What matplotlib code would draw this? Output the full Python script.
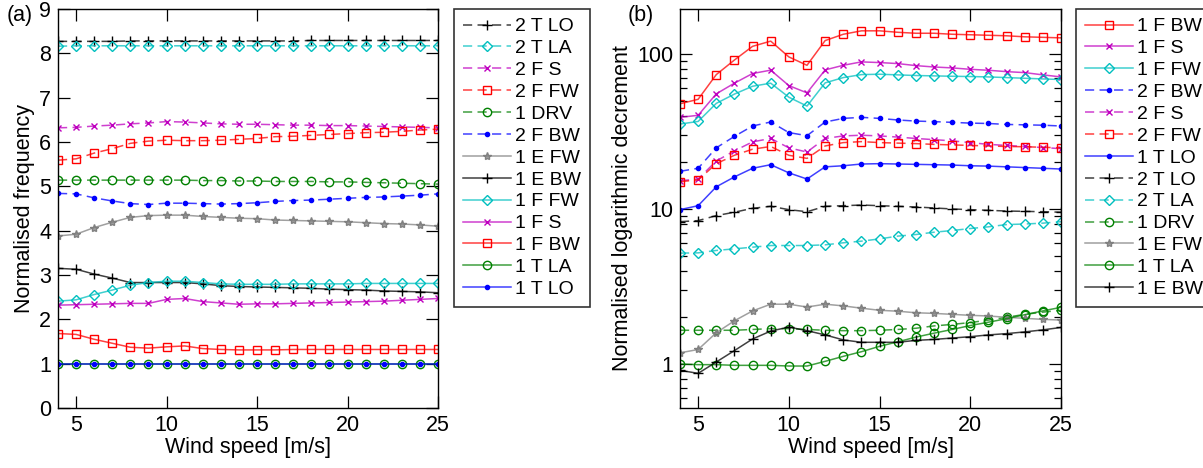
import numpy as np
import matplotlib
matplotlib.use("Agg")
import matplotlib.pyplot as plt

plt.rcParams['font.family'] = ['Liberation Sans', 'DejaVu Sans']

ws = [4, 5, 6, 7, 8, 9, 10, 11, 12, 13, 14, 15, 16, 17, 18, 19, 20, 21, 22, 23, 24, 25]

# (a) normalised frequency
f_2TLO = [8.27, 8.27, 8.27, 8.27, 8.28, 8.28, 8.28, 8.28, 8.28, 8.28, 8.28, 8.28, 8.28, 8.28, 8.29, 8.29, 8.29, 8.29, 8.29, 8.29, 8.29, 8.29]
f_2TLA = [8.16, 8.17, 8.17, 8.17, 8.17, 8.17, 8.17, 8.17, 8.17, 8.17, 8.17, 8.17, 8.17, 8.17, 8.17, 8.17, 8.17, 8.17, 8.17, 8.17, 8.17, 8.17]
f_2FS = [6.32, 6.33, 6.36, 6.38, 6.41, 6.43, 6.46, 6.45, 6.43, 6.41, 6.40, 6.40, 6.39, 6.38, 6.38, 6.37, 6.37, 6.36, 6.35, 6.34, 6.33, 6.32]
f_2FFW = [5.59, 5.62, 5.75, 5.85, 5.97, 6.02, 6.04, 6.03, 6.03, 6.04, 6.06, 6.08, 6.12, 6.13, 6.15, 6.17, 6.19, 6.21, 6.22, 6.24, 6.27, 6.29]
f_1DRV = [5.14, 5.14, 5.14, 5.14, 5.14, 5.14, 5.14, 5.14, 5.13, 5.13, 5.12, 5.12, 5.11, 5.11, 5.11, 5.10, 5.10, 5.09, 5.08, 5.07, 5.06, 5.05]
f_2FBW = [4.84, 4.83, 4.74, 4.67, 4.61, 4.59, 4.62, 4.62, 4.61, 4.60, 4.61, 4.63, 4.66, 4.68, 4.69, 4.71, 4.73, 4.75, 4.76, 4.78, 4.80, 4.83]
f_1EFW = [3.88, 3.92, 4.07, 4.19, 4.30, 4.34, 4.35, 4.35, 4.32, 4.30, 4.28, 4.27, 4.24, 4.23, 4.22, 4.21, 4.20, 4.18, 4.16, 4.15, 4.13, 4.10]
f_1EBW = [3.15, 3.13, 3.02, 2.93, 2.83, 2.83, 2.83, 2.83, 2.80, 2.76, 2.74, 2.73, 2.72, 2.71, 2.70, 2.68, 2.67, 2.66, 2.64, 2.63, 2.62, 2.60]
f_1FFW = [2.41, 2.44, 2.56, 2.66, 2.77, 2.83, 2.86, 2.86, 2.83, 2.80, 2.79, 2.79, 2.79, 2.80, 2.80, 2.80, 2.80, 2.81, 2.81, 2.81, 2.81, 2.81]
f_1FS = [2.32, 2.33, 2.34, 2.35, 2.36, 2.36, 2.45, 2.47, 2.40, 2.37, 2.34, 2.35, 2.35, 2.36, 2.37, 2.38, 2.39, 2.40, 2.41, 2.43, 2.45, 2.47]
f_1FBW = [1.68, 1.66, 1.55, 1.46, 1.37, 1.35, 1.38, 1.40, 1.34, 1.32, 1.31, 1.31, 1.31, 1.32, 1.32, 1.32, 1.32, 1.32, 1.32, 1.32, 1.32, 1.32]
f_1TLA = [1.0, 1.0, 1.0, 1.0, 1.0, 1.0, 1.0, 1.0, 1.0, 1.0, 1.0, 1.0, 1.0, 1.0, 1.0, 1.0, 1.0, 1.0, 1.0, 1.0, 1.0, 1.0]
f_1TLO = [1.0, 1.0, 1.0, 1.0, 1.0, 1.0, 1.0, 1.0, 1.0, 1.0, 1.0, 1.0, 1.0, 1.0, 1.0, 1.0, 1.0, 1.0, 1.0, 1.0, 1.0, 1.0]

# (b) normalised logarithmic decrement
d_1FBW = [47.7, 51, 73.6, 91.4, 112, 121, 95.7, 84.5, 122, 134, 141, 141, 138, 136, 136, 134, 133, 132, 131, 129, 128, 127]
d_1FS = [39, 40.2, 55.3, 64.8, 74.8, 78.6, 62.5, 56.1, 78.9, 84.5, 88.9, 88, 86.7, 84.1, 82.4, 81.3, 79.6, 78.5, 76.9, 75.8, 73.3, 71.1]
d_1FFW = [35.3, 36.7, 48, 55.1, 61.9, 64.8, 52.6, 46.1, 65.1, 70.4, 73.6, 74, 73.3, 72.6, 72.2, 71.8, 71.5, 71.1, 70.4, 69.7, 69, 68.4]
d_2FBW = [17.5, 18.3, 24.8, 29.4, 34.3, 36.4, 31.1, 29.7, 36.4, 38.4, 39, 38.4, 37.5, 36.9, 36.6, 36.2, 35.8, 35.6, 35.1, 34.9, 34.7, 34.3]
d_2FS = [15.2, 15.6, 20.4, 23.7, 27.1, 28.5, 24.8, 23.3, 28.5, 29.6, 29.9, 29.6, 29.1, 28.5, 28, 27.5, 26.8, 26.1, 25.7, 25.3, 24.9, 24.5]
d_2FFW = [15, 15.4, 19.6, 22.2, 24.3, 25.3, 22.2, 21.2, 25.5, 26.8, 27.2, 26.8, 26.6, 26.4, 26.1, 25.9, 25.7, 25.5, 25.3, 25.2, 25, 24.8]
d_1TLO = [9.9, 10.5, 13.9, 16.1, 18.3, 19.3, 17.1, 15.6, 18.7, 19, 19.5, 19.6, 19.5, 19.4, 19.3, 19.2, 19, 18.9, 18.7, 18.5, 18.3, 18.1]
d_2TLO = [8.28, 8.41, 9.06, 9.53, 10.1, 10.4, 9.9, 9.6, 10.4, 10.5, 10.6, 10.5, 10.4, 10.3, 10.15, 10, 9.9, 9.8, 9.7, 9.65, 9.6, 9.53]
d_2TLA = [5.19, 5.21, 5.4, 5.53, 5.67, 5.81, 5.81, 5.81, 5.87, 6.05, 6.2, 6.41, 6.68, 6.84, 7.08, 7.26, 7.48, 7.67, 7.93, 8.0, 8.1, 8.28]
d_1DRV = [1.65, 1.65, 1.65, 1.65, 1.67, 1.69, 1.69, 1.67, 1.65, 1.64, 1.64, 1.65, 1.67, 1.70, 1.76, 1.80, 1.85, 1.92, 2.00, 2.09, 2.16, 2.22]
d_1EFW = [1.18, 1.24, 1.59, 1.90, 2.20, 2.43, 2.43, 2.33, 2.43, 2.37, 2.29, 2.22, 2.19, 2.14, 2.12, 2.09, 2.06, 2.04, 2.00, 1.97, 1.94, 1.92]
d_1TLA = [1.0, 0.99, 0.99, 0.98, 0.98, 0.98, 0.97, 0.97, 1.04, 1.12, 1.20, 1.30, 1.39, 1.49, 1.58, 1.67, 1.77, 1.86, 1.96, 2.08, 2.20, 2.32]
d_1EBW = [0.91, 0.87, 1.03, 1.22, 1.45, 1.63, 1.73, 1.64, 1.54, 1.43, 1.38, 1.38, 1.38, 1.42, 1.44, 1.47, 1.50, 1.54, 1.57, 1.61, 1.66, 1.72]

RED = (1, 0, 0)
MAG = (0.75, 0, 0.75)
CYA = (0, 0.75, 0.75)
BLU = (0, 0, 1)
GRN = (0, 0.5, 0)
GRY = (0.5, 0.5, 0.5)
BLK = (0, 0, 0)

DASH = (0, (6, 3.5))

# label -> (colour, marker, linestyle, marker size)
style = {
    "1 F BW": (RED, "s", "-", 6),
    "1 F S": (MAG, "x", "-", 5),
    "1 F FW": (CYA, "D", "-", 5.5),
    "2 F BW": (BLU, ".", DASH, 6),
    "2 F S": (MAG, "x", DASH, 5),
    "2 F FW": (RED, "s", DASH, 6),
    "1 T LO": (BLU, ".", "-", 6),
    "2 T LO": (BLK, "+", DASH, 7),
    "2 T LA": (CYA, "D", DASH, 5.5),
    "1 DRV": (GRN, "o", DASH, 6),
    "1 E FW": (GRY, "*", "-", 6),
    "1 T LA": (GRN, "o", "-", 6),
    "1 E BW": (BLK, "+", "-", 7),
}


def draw(ax, x, y, lab):
    c, m, ls, ms = style[lab]
    lc = c + (0.75,)
    if m in (".",):
        ax.plot(x, y, color=lc, ls=ls, lw=1.1, marker=m, ms=ms, mec=c, mfc=c, label=lab)
    elif m in ("x", "+", "*"):
        ax.plot(x, y, color=lc, ls=ls, lw=1.1, marker=m, ms=ms, mec=c, mew=1.0, label=lab)
    else:
        ax.plot(x, y, color=lc, ls=ls, lw=1.1, marker=m, ms=ms, mec=c, mfc="none", mew=1.0, label=lab)


def style_axes(ax):
    ax.set_xlim(4, 25)
    ax.set_xticks([5, 10, 15, 20, 25])
    ax.tick_params(which="major", direction="in", top=True, right=True, length=8.5, width=0.9, labelsize=15.5, pad=5)
    ax.tick_params(which="minor", direction="in", top=True, right=True, length=5, width=0.9)
    for s in ax.spines.values():
        s.set_linewidth(1.0)
    ax.set_xlabel("Wind speed [m/s]", fontsize=15.5, labelpad=1)


fig = plt.figure(figsize=(12.03, 4.68), dpi=100)
ax1 = fig.add_axes([58 / 1203, 60 / 468, 380 / 1203, 399 / 468])
ax2 = fig.add_axes([680 / 1203, 60 / 468, 381 / 1203, 399 / 468])

left_series = [
    ("2 T LO", f_2TLO), ("2 T LA", f_2TLA), ("2 F S", f_2FS), ("2 F FW", f_2FFW),
    ("1 DRV", f_1DRV), ("2 F BW", f_2FBW), ("1 E FW", f_1EFW), ("1 E BW", f_1EBW),
    ("1 F FW", f_1FFW), ("1 F S", f_1FS), ("1 F BW", f_1FBW), ("1 T LA", f_1TLA),
    ("1 T LO", f_1TLO),
]
for lab, vals in left_series:
    draw(ax1, ws, vals, lab)
style_axes(ax1)
ax1.set_ylim(0, 9)
ax1.set_yticks(range(0, 10))
ax1.set_ylabel("Normalised frequency", fontsize=15.5, labelpad=3)

right_series = [
    ("1 F BW", d_1FBW), ("1 F S", d_1FS), ("1 F FW", d_1FFW), ("2 F BW", d_2FBW),
    ("2 F S", d_2FS), ("2 F FW", d_2FFW), ("1 T LO", d_1TLO), ("2 T LO", d_2TLO),
    ("2 T LA", d_2TLA), ("1 DRV", d_1DRV), ("1 E FW", d_1EFW), ("1 T LA", d_1TLA),
    ("1 E BW", d_1EBW),
]
for lab, vals in right_series:
    draw(ax2, ws, vals, lab)
ax2.set_yscale("log")
style_axes(ax2)
ax2.set_ylim(0.52, 195)
ax2.set_yticks([1, 10, 100])
ax2.set_yticklabels(["1", "10", "100"])
ax2.set_ylabel("Normalised logarithmic decrement", fontsize=15.5, labelpad=3)

leg_kw = dict(loc="upper left", fontsize=14, frameon=True, fancybox=False, edgecolor="black",
              handlelength=2.5, handletextpad=0.2, labelspacing=0.22, borderpad=0.45,
              borderaxespad=0)
l1 = ax1.legend(bbox_to_anchor=(454 / 1203, 1 - 9 / 468), bbox_transform=fig.transFigure, **leg_kw)
l2 = ax2.legend(bbox_to_anchor=(1076 / 1203, 1 - 9 / 468), bbox_transform=fig.transFigure, **leg_kw)
for lg in (l1, l2):
    lg.get_frame().set_linewidth(1.2)

fig.text(7 / 1203, 1 - 16 / 468, "(a)", fontsize=15.5, va="center", ha="left")
fig.text(628 / 1203, 1 - 16 / 468, "(b)", fontsize=15.5, va="center", ha="left")

fig.savefig("out.png", dpi=100)
